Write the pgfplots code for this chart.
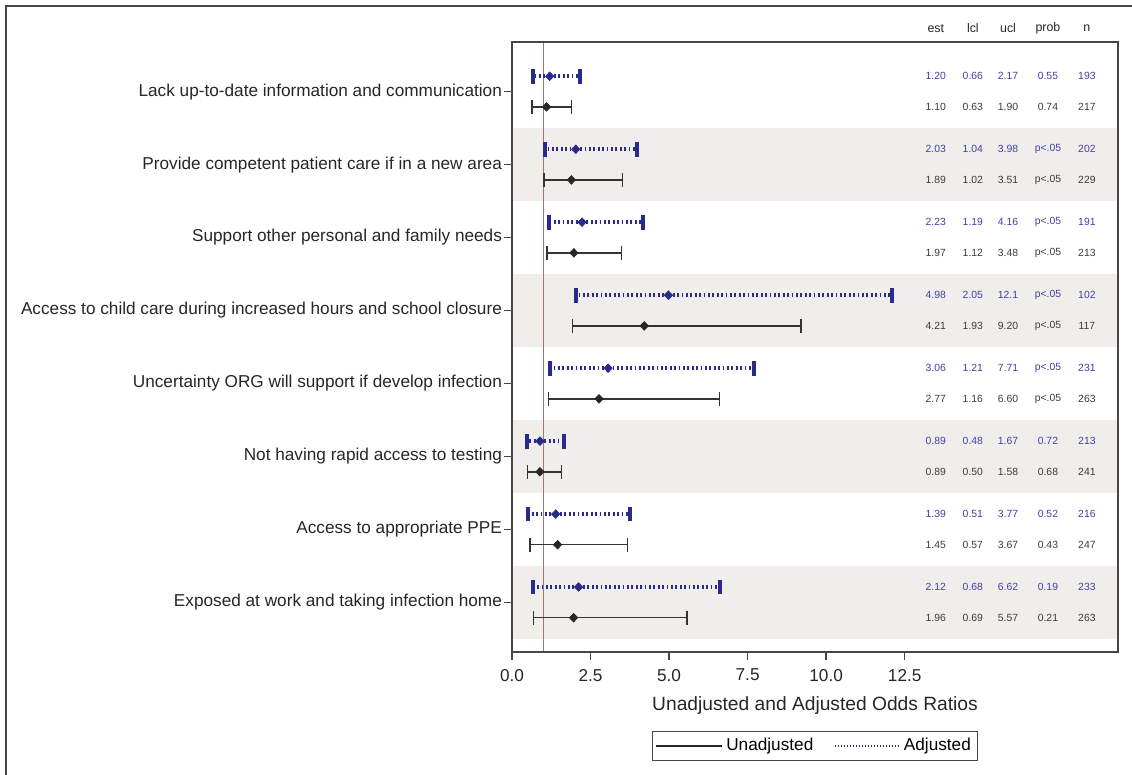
\documentclass[border=0pt]{standalone}
\usepackage{pgfplots}
\usepackage{pgfplotstable}
\pgfplotsset{compat=1.18}
\usepackage{fontspec}
\setmainfont{Liberation Sans}
\definecolor{navy}{RGB}{42,42,138}
\definecolor{bluetxt}{RGB}{64,64,168}
\definecolor{greytxt}{RGB}{60,60,60}
\definecolor{bandc}{RGB}{239,238,234}
\definecolor{refc}{RGB}{160,118,112}
\definecolor{axc}{RGB}{70,70,70}

\pgfplotstableread{
cat est lcl ucl prob n
1 1.20 0.66 2.17 0.55 193
2 2.03 1.04 3.98 p<.05 202
3 2.23 1.19 4.16 p<.05 191
4 4.98 2.05 12.1 p<.05 102
5 3.06 1.21 7.71 p<.05 231
6 0.89 0.48 1.67 0.72 213
7 1.39 0.51 3.77 0.52 216
8 2.12 0.68 6.62 0.19 233
}\adj
\pgfplotstableread{
cat est lcl ucl prob n
1 1.10 0.63 1.90 0.74 217
2 1.89 1.02 3.51 p<.05 229
3 1.97 1.12 3.48 p<.05 213
4 4.21 1.93 9.20 p<.05 117
5 2.77 1.16 6.60 p<.05 263
6 0.89 0.50 1.58 0.68 241
7 1.45 0.57 3.67 0.43 247
8 1.96 0.69 5.57 0.21 263
}\unadj
\pgfplotstableread{
x y lab
13.49 0.13 est
14.67 0.13 lcl
15.79 0.13 ucl
17.06 0.13 prob
18.30 0.13 n
}\hdr

\begin{document}
\begin{tikzpicture}
\useasboundingbox (0,0) rectangle (566pt,387.5pt);
\draw[axc, line width=1pt] (3pt,0) -- (3pt,384.5pt) -- (570pt,384.5pt);
\begin{axis}[
  at={(256pt,61.5pt)}, anchor=south west,
  scale only axis, width=303pt, height=305pt,
  xmin=0, xmax=19.29, ymin=0.32, ymax=8.68, y dir=reverse,
  clip=false, axis on top,
  axis line style={axc, line width=0.75pt},
  tick style={axc, line width=0.75pt},
  tick align=outside, tick pos=left, major tick length=4pt,
  xtick={0,2.5,5,7.5,10,12.5},
  xticklabels={0.0,2.5,5.0,7.5,10.0,12.5},
  ytick={1,...,8},
  yticklabels={Lack up-to-date information and communication,
    Provide competent patient care if in a new area,
    Support other personal and family needs,
    Access to child care during increased hours and school closure,
    Uncertainty ORG will support if develop infection,
    Not having rapid access to testing,
    Access to appropriate PPE,
    Exposed at work and taking infection home},
  ticklabel style={font=\fontsize{8.6}{10}\selectfont, text=black!85},
  yticklabel style={xshift=2.5pt},
  xticklabel style={yshift=-1pt},
  xlabel={Unadjusted and Adjusted Odds Ratios},
  xlabel style={font=\fontsize{9.6}{11}\selectfont, text=black!85, at={(axis description cs:0.5,-0.0885)}, anchor=center},
  legend style={at={(axis description cs:0.5,-0.154)}, anchor=center, draw=axc, line width=0.6pt,
    font=\fontsize{8.6}{10}\selectfont, legend columns=2, inner sep=1.5pt,
    /tikz/every even column/.append style={column sep=8pt}},
  legend cell align=left,
]
% background bands
\pgfplotsinvokeforeach{1.5,3.5,5.5,7.5}{
  \addplot[fill=bandc, draw=none, forget plot] coordinates {(0,#1) (19.29,#1) (19.29,#1+1) (0,#1+1) (0,#1)};
}
% reference line
\addplot[refc, line width=0.7pt, forget plot] coordinates {(1,0.32) (1,8.68)};
% unadjusted
\addplot[black!85, only marks, mark=diamond*, mark size=2.1pt, mark options={xscale=1.3}, forget plot,
  error bars/.cd, x dir=both, x explicit, error mark=|,
  error bar style={line width=0.75pt, black!80},
  error mark options={line width=0.75pt, mark size=3.6pt, black!80}]
  table[x=est, y expr=\thisrow{cat}+0.21,
    x error plus expr=\thisrow{ucl}-\thisrow{est},
    x error minus expr=\thisrow{est}-\thisrow{lcl}] {\unadj};
% adjusted
\addplot[navy, only marks, mark=diamond*, mark size=2.1pt, mark options={xscale=1.3}, forget plot,
  error bars/.cd, x dir=both, x explicit, error mark=|,
  error bar style={line width=2pt, navy, dash pattern=on 0.9pt off 1.3pt},
  error mark options={solid, line width=2pt, mark size=3.7pt, navy}]
  table[x=est, y expr=\thisrow{cat}-0.21,
    x error plus expr=\thisrow{ucl}-\thisrow{est},
    x error minus expr=\thisrow{est}-\thisrow{lcl}] {\adj};
% table text
\pgfplotsforeachungrouped \col/\xx in {est/13.49, lcl/14.67, ucl/15.79, prob/17.06, n/18.30}{
  \edef\tmp{\noexpand\addplot[draw=none, mark=none, forget plot, nodes near coords, point meta=explicit symbolic,
    nodes near coords style={anchor=center, text=bluetxt, font=\noexpand\fontsize{5.2}{6}\noexpand\selectfont}]
    table[x expr=\xx, y expr=\noexpand\thisrow{cat}-0.21, meta=\col] {\noexpand\adj};
  \noexpand\addplot[draw=none, mark=none, forget plot, nodes near coords, point meta=explicit symbolic,
    nodes near coords style={anchor=center, text=greytxt, font=\noexpand\fontsize{5.2}{6}\noexpand\selectfont}]
    table[x expr=\xx, y expr=\noexpand\thisrow{cat}+0.21, meta=\col] {\noexpand\unadj};}
  \tmp
}
\addplot[draw=none, mark=none, forget plot, nodes near coords, point meta=explicit symbolic,
  nodes near coords style={anchor=center, text=black!85, font=\fontsize{6.2}{7}\selectfont}]
  table[x=x, y=y, meta=lab] {\hdr};
% legend
\addlegendimage{legend image code/.code={\draw[black!85, line width=0.6pt] (0pt,0pt) -- (33pt,0pt);}}
\addlegendentry{Unadjusted}
\addlegendimage{legend image code/.code={\draw[navy, line width=1.3pt, dash pattern=on 0.6pt off 0.9pt] (0pt,0pt) -- (32pt,0pt);}}
\addlegendentry{Adjusted}
\end{axis}
\end{tikzpicture}
\end{document}
